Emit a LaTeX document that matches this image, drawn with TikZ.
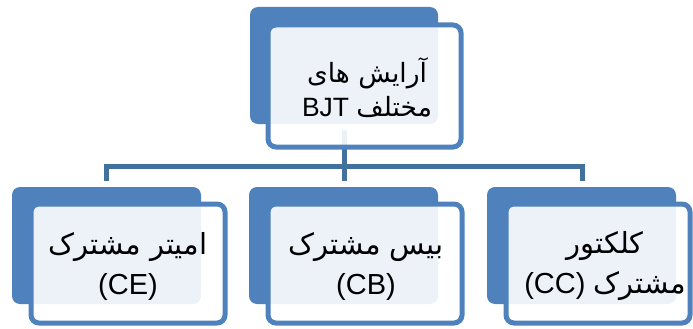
\documentclass[tikz,border=0pt]{standalone}
\usepackage{fontspec}
\setmainfont{Liberation Sans}
\newfontfamily\fa[Script=Arabic]{DejaVu Sans}
\TeXXeTstate=1
\definecolor{accentblue}{HTML}{4F81BD}
\definecolor{linkblue}{HTML}{41719C}
\tikzset{
  backbox/.style={fill=accentblue, draw=none, rounded corners=8pt, inner sep=0pt},
  framebox/.style={draw=accentblue, line width=5pt, fill=white, fill opacity=0.9,
                   text opacity=1, rounded corners=8pt, inner sep=0pt},
  link/.style={draw=linkblue, line width=5pt},
  toplabel/.style={align=center, text=black, font=\fontsize{26.5}{34}\selectfont},
  childlabel/.style={align=center, text=black, font=\fontsize{29}{40}\selectfont},
}
\begin{document}
\begin{tikzpicture}[x=1pt,y=-1pt]
\useasboundingbox (0,0) rectangle (693,329);
% connector junctions
\coordinate (ts) at (344,130);
\coordinate (hub) at (344,166);
\coordinate (c0) at (106,181);
\coordinate (c1) at (344,181);
\coordinate (c2) at (582,181);
% top back box and connectors (drawn behind the frames)
\node[backbox, minimum width=188pt, minimum height=117pt] (b0) at (344,65.5) {};
\draw[link] (ts) -- (hub);
\draw[link] (hub) -| (c0);
\draw[link] (hub) -- (c1);
\draw[link] (hub) -| (c2);
% top box
\node[framebox, minimum width=193pt, minimum height=122pt] (f0) at (364.5,86) {};
\node[toplabel] (t0) at (367,88) {{\fa\beginR آرایش های\endR}\\\beginR{\fa مختلف} \beginL BJT\endL\endR};
% children back boxes
\node[backbox, minimum width=189pt, minimum height=117pt] (b1) at (106.5,245.5) {};
\node[backbox, minimum width=189pt, minimum height=117pt] (b2) at (343.5,245.5) {};
\node[backbox, minimum width=189pt, minimum height=117pt] (b3) at (581.5,245.5) {};
% children frames
\node[framebox, minimum width=194pt, minimum height=119pt] (f1) at (128,263.5) {};
\node[framebox, minimum width=194pt, minimum height=119pt] (f2) at (365,263.5) {};
\node[framebox, minimum width=184pt, minimum height=119pt] (f3) at (598,263.5) {};
% children labels
\node[childlabel] (t1) at (128,266) {{\fa\beginR امیتر مشترک\endR}\\(CE)};
\node[childlabel] (t2) at (366,266) {{\fa\beginR بیس مشترک\endR}\\(CB)};
\node[childlabel] (t3) at (605,266) {{\fa\beginR کلکتور\endR}\\\beginR{\fa مشترک} \beginL(CC)\endL\endR};
\end{tikzpicture}
\end{document}
